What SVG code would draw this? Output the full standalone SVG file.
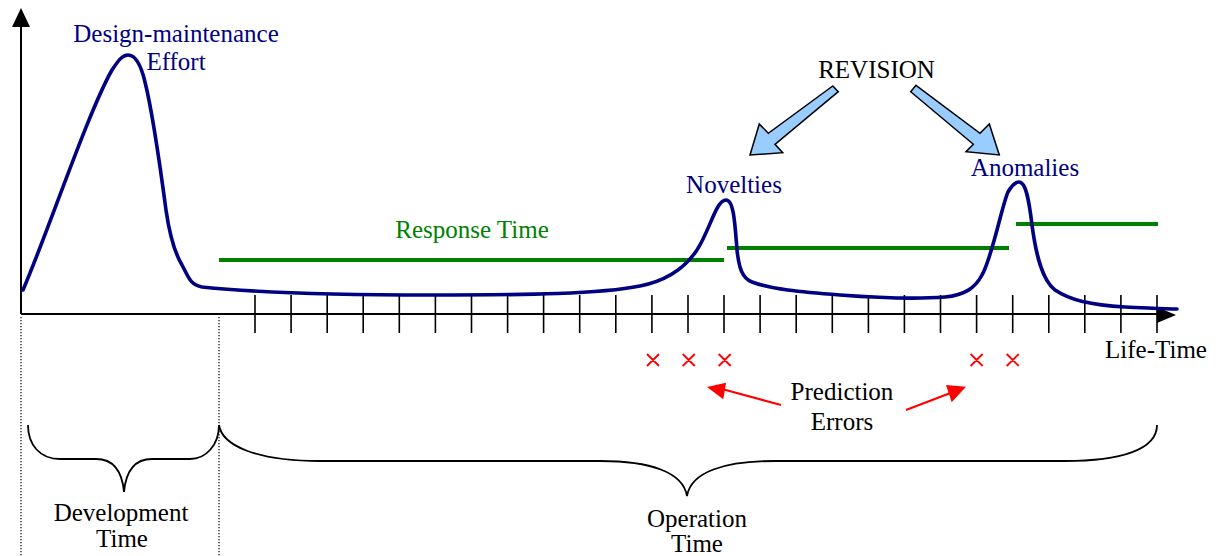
<svg xmlns="http://www.w3.org/2000/svg" width="1216" height="556" viewBox="0 0 1216 556">
<style>
text{font-family:"Liberation Serif","Times New Roman",serif;font-size:25px;text-anchor:middle}
.navy{fill:#000080}.blk{fill:#000}.grn{fill:#008000}
.axis{stroke:#000;stroke-width:2;fill:none}
.tick{stroke:#000;stroke-width:1.6}
.dot{stroke:#000;stroke-width:1.2;stroke-dasharray:1.2 1.8;fill:none}
.brace{stroke:#000;stroke-width:1.8;fill:none}
.rt{stroke:#008000;stroke-width:4}
.curve{stroke:#000080;stroke-width:3.6;fill:none;stroke-linecap:round;stroke-linejoin:round}
.barrow{fill:#99CCFF;stroke:#000;stroke-width:1.5;stroke-linejoin:miter}
.red{stroke:#FF0000;stroke-width:2.2;fill:none}
.xm{stroke:#FF0000;stroke-width:1.8;fill:none}
</style>
<rect width="1216" height="556" fill="#fff"/>
<g id="axes">
<line class="axis" x1="21" y1="314" x2="21" y2="24"/>
<polygon points="21,8 12,27 30,27" fill="#000"/>
<line class="axis" x1="21" y1="314" x2="1160" y2="314"/>
<polygon points="1176,315 1157,307 1157,323" fill="#000"/>
<g id="ticks">
<path class="tick" d="M255,295V333M291.1,295V333M327.2,295V333M363.2,295V333M399.3,295V333M435.4,295V333M471.5,295V333M507.6,295V333M543.6,295V333M579.7,295V333M615.8,295V333M651.9,295V333M688,295V333M724,295V333M760.1,295V333M796.2,295V333M832.3,295V333M868.4,295V333M904.4,295V333M940.5,295V333M976.6,295V333M1012.7,295V333M1048.8,295V333M1084.8,295V333M1120.9,295V333M1157,295V333"/>
</g>
<text class="blk" x="1156" y="358">Life-Time</text>
</g>
<g id="dividers">
<line class="dot" x1="21" y1="317" x2="21" y2="556"/>
<line class="dot" x1="219" y1="317" x2="219" y2="556"/>
</g>
<g id="response-time">
<line class="rt" x1="219" y1="260" x2="724" y2="260"/>
<line class="rt" x1="727" y1="248" x2="1009" y2="248"/>
<line class="rt" x1="1016" y1="224" x2="1158" y2="224"/>
<text class="grn" x="472" y="238">Response Time</text>
</g>
<g id="effort-curve">
<path class="curve" d="M23,290 C48,232 88,112 112,70 C118,61 122,55 128,55 C136,55 141,65 145,82 C152,110 160,165 166,210 C170,238 176,255 182,265 C188,276 190,285 202,287 C260,293 330,295 430,295 C530,295 600,294 640,286 C665,281 685,268 697,250 C710,230 716,200 726,200 C734,200 735,225 737,250 C739,268 742,278 752,282 C770,289 800,292 840,295 C880,298 920,299 945,297 C965,295 975,288 982,275 C992,258 1002,205 1008,192 C1012,185 1015,182 1019,182 C1026,182 1029,200 1032,225 C1036,255 1042,280 1055,290 C1070,300 1090,305 1125,307 C1150,308 1165,309 1177,309"/>
<text class="navy" x="176" y="42">Design-maintenance</text>
<text class="navy" x="176" y="70">Effort</text>
</g>
<g id="revision">
<text class="blk" x="876.5" y="78">REVISION</text>
<polygon class="barrow" points="832.7,86 768.3,133.3 759.3,124 750,155 782.7,152.7 775,144.3 838.3,91.7"/>
<polygon class="barrow" points="916,85.3 980,133.3 989.3,124 999.3,155 966,151.7 973.3,144.3 910.7,91.7"/>
</g>
<g id="novelties">
<text class="navy" x="734" y="193">Novelties</text>
</g>
<g id="anomalies">
<text class="navy" x="1025" y="176">Anomalies</text>
</g>
<g id="prediction-errors">
<path class="xm" d="M647,354l12,12M659,354l-12,12M682.7,354l12,12M694.7,354l-12,12M718.7,354l12,12M730.7,354l-12,12M970.6,354l12,12M982.6,354l-12,12M1006.7,354l12,12M1018.7,354l-12,12"/>
<text class="blk" x="842" y="400">Prediction</text>
<text class="blk" x="842" y="430">Errors</text>
</g>
<g id="connectors">
<line class="red" x1="781" y1="405" x2="722" y2="389"/>
<polygon points="707,387 726,382.7 723.3,399.3" fill="#FF0000"/>
<line class="red" x1="906" y1="410" x2="953" y2="392"/>
<polygon points="966,386.7 946,385 951.7,402.3" fill="#FF0000"/>
</g>
<g id="development">
<path class="brace" d="M28,425 C28,445 40,459 60,459 L96,459 C112,459 122,470 124,492 C126,470 136,459 152,459 L190,459 C206,459 219,445 219,425"/>
<text class="blk" x="121" y="521">Development</text>
<text class="blk" x="122" y="547">Time</text>
</g>
<g id="operation">
<path class="brace" d="M219,425 C222,445 255,461 320,461 L600,461 C650,461 683,472 687,496 C691,472 724,461 775,461 L1065,461 C1120,461 1157,450 1157,425"/>
<text class="blk" x="697" y="527">Operation</text>
<text class="blk" x="697" y="552">Time</text>
</g>
</svg>
